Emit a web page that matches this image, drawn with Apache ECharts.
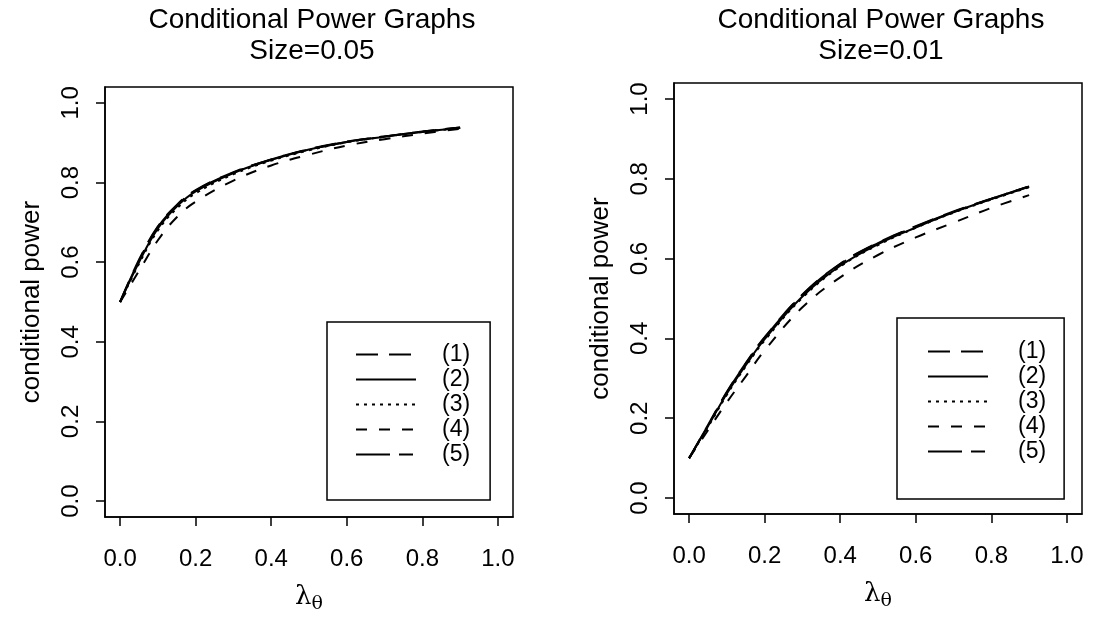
<!DOCTYPE html>
<html>
<head>
<meta charset="utf-8">
<script src="https://cdn.jsdelivr.net/npm/echarts@6/dist/echarts.min.js"></script>
<style>
html,body{margin:0;padding:0;background:#fff;}
#c{width:1094px;height:620px;}
</style>
</head>
<body>
<div id="c"></div>
<script>
// ---- data ----
const lambdaValues = [0, 0.05, 0.1, 0.15, 0.2, 0.3, 0.4, 0.5, 0.6, 0.7, 0.8, 0.9];
const seriesNames = ['(1)', '(2)', '(3)', '(4)', '(5)'];
const tickValues = [0, 0.2, 0.4, 0.6, 0.8, 1.0];

// Size = 0.05
const size05_1 = [0.50, 0.606, 0.690, 0.744, 0.781, 0.826, 0.858, 0.884, 0.903, 0.916, 0.928, 0.938];
const size05_2 = [0.50, 0.600, 0.685, 0.740, 0.778, 0.824, 0.857, 0.883, 0.902, 0.915, 0.927, 0.937];
const size05_3 = [0.50, 0.596, 0.680, 0.735, 0.773, 0.821, 0.855, 0.881, 0.901, 0.915, 0.927, 0.937];
const size05_4 = [0.50, 0.578, 0.655, 0.713, 0.752, 0.805, 0.843, 0.870, 0.893, 0.909, 0.923, 0.935];
const size05_5 = [0.50, 0.604, 0.688, 0.742, 0.780, 0.825, 0.858, 0.883, 0.902, 0.916, 0.928, 0.938];

// Size = 0.01
const size01_1 = [0.10, 0.183, 0.266, 0.338, 0.403, 0.510, 0.587, 0.640, 0.681, 0.718, 0.750, 0.781];
const size01_2 = [0.10, 0.180, 0.262, 0.333, 0.398, 0.505, 0.582, 0.636, 0.678, 0.716, 0.749, 0.780];
const size01_3 = [0.10, 0.178, 0.259, 0.330, 0.395, 0.502, 0.580, 0.634, 0.677, 0.715, 0.748, 0.779];
const size01_4 = [0.10, 0.170, 0.240, 0.305, 0.370, 0.478, 0.553, 0.609, 0.653, 0.690, 0.727, 0.759];
const size01_5 = [0.10, 0.182, 0.265, 0.337, 0.402, 0.509, 0.586, 0.639, 0.680, 0.717, 0.750, 0.781];

const titles = ['Conditional Power Graphs\nSize=0.05', 'Conditional Power Graphs\nSize=0.01'];
const yName = 'conditional power';

// ---- styles ----
const FONT = '"Liberation Sans", Arial, Helvetica, sans-serif';
const dashTypes = [[22, 11], 'solid', [3, 5], [11, 12], [34, 9, 14, 9]];
const panels = [
  [size05_1, size05_2, size05_3, size05_4, size05_5],
  [size01_1, size01_2, size01_3, size01_4, size01_5]
];
const grids = [
  {left: 105, top: 87, width: 408, height: 430},
  {left: 674, top: 83, width: 408, height: 431}
];

function pairs(ys) { return lambdaValues.map((x, i) => [x, ys[i]]); }

const series = [];
panels.forEach((p, pi) => {
  p.forEach((ys, si) => {
    series.push({
      type: 'line',
      name: seriesNames[si],
      xAxisIndex: pi, yAxisIndex: pi,
      data: pairs(ys),
      symbol: 'none',
      smooth: 0.4,
      lineStyle: {color: '#000', width: 2, type: dashTypes[si]},
      itemStyle: {color: '#000'},
      silent: true,
      z: si === 1 ? 3 : 2
    });
  });
});

function xAxis(i) {
  return {
    gridIndex: i, type: 'value', min: -0.04, max: 1.04,
    splitLine: {show: false},
    axisLine: {show: true, onZero: false, lineStyle: {color: '#000', width: 1.5}},
    axisTick: {show: true, customValues: tickValues, length: 9, lineStyle: {color: '#000', width: 1.5}},
    axisLabel: {customValues: tickValues, formatter: v => v.toFixed(1), color: '#000',
      fontFamily: FONT, fontSize: 24, margin: 30},
    name: '{l|λ}{s|θ}', nameLocation: 'middle', nameGap: 64,
    nameTextStyle: {
      rich: {
        l: {fontFamily: 'DejaVu Serif, serif', fontSize: 26, color: '#000'},
        s: {fontFamily: 'DejaVu Serif, serif', fontSize: 19, color: '#000', padding: [14, 0, 0, 0]}
      }
    }
  };
}
function yAxis(i) {
  return {
    gridIndex: i, type: 'value', min: -0.04, max: 1.04,
    splitLine: {show: false},
    axisLine: {show: true, onZero: false, lineStyle: {color: '#000', width: 1.5}},
    axisTick: {show: true, customValues: tickValues, length: 9, lineStyle: {color: '#000', width: 1.5}},
    axisLabel: {customValues: tickValues, formatter: v => v.toFixed(1), color: '#000',
      fontFamily: FONT, fontSize: 24, margin: 22, rotate: 90},
    name: yName, nameLocation: 'middle', nameGap: 60, nameRotate: 90,
    nameTextStyle: {fontFamily: FONT, fontSize: 26, color: '#000'}
  };
}

function legend(pos) {
  return {
    show: true, orient: 'vertical', data: seriesNames,
    left: pos.left, top: pos.top,
    padding: pos.padding,
    itemWidth: 60, itemHeight: 14, itemGap: 2,
    borderColor: '#000', borderWidth: 1.5,
    selectedMode: false,
    itemStyle: {opacity: 0, borderWidth: 0},
    lineStyle: {width: 2, color: '#000'},
    textStyle: {fontFamily: FONT, fontSize: 23, lineHeight: 20, color: '#000', padding: [0, 0, 0, pos.textPad]}
  };
}

const chart = echarts.init(document.getElementById('c'), null, {renderer: 'canvas'});
chart.setOption({
  backgroundColor: '#fff',
  animation: false,
  title: titles.map((t, i) => ({
    text: t, left: i === 0 ? 307 : 876, top: 0, textAlign: 'center',
    textStyle: {fontFamily: FONT, fontSize: 28, fontWeight: 'normal', color: '#000', lineHeight: 31}
  })),
  grid: grids.map(g => Object.assign({show: true, borderColor: '#000', borderWidth: 1.5, backgroundColor: 'transparent'}, g)),
  xAxis: [xAxis(0), xAxis(1)],
  yAxis: [yAxis(0), yAxis(1)],
  legend: [
    legend({left: 327, top: 322, padding: [21, 20, 34, 28], textPad: 21}),
    legend({left: 897, top: 318, padding: [22, 18, 36, 30], textPad: 25})
  ],
  series: series
});
</script>
</body>
</html>
